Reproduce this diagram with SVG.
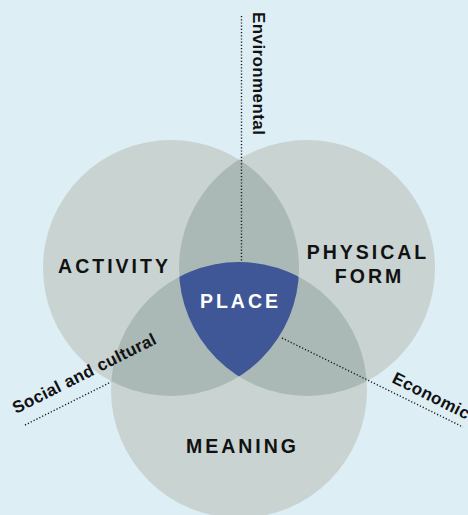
<svg xmlns="http://www.w3.org/2000/svg" width="468" height="515" viewBox="0 0 468 515">
<defs>
<style>
.circ{fill:#c9d3d2}
.ovl{fill:#abb9b6}
.place{fill:#3f5797}
.lbl{font-family:"Liberation Sans",Arial,sans-serif;font-weight:bold;font-size:19.5px;letter-spacing:3px;fill:#111;text-anchor:middle}
.plbl{font-family:"Liberation Sans",Arial,sans-serif;font-weight:bold;font-size:19.5px;letter-spacing:3px;fill:#fff;text-anchor:middle}
.dim{font-family:"Liberation Sans",Arial,sans-serif;font-weight:bold;font-size:17px;letter-spacing:0.4px;fill:#111}
.dot{stroke:#1a1a1a;stroke-width:1.4;stroke-dasharray:1.2 2;fill:none}
</style>
<clipPath id="clipA"><circle cx="171" cy="268" r="128"/></clipPath>
<clipPath id="clipB"><circle cx="307" cy="268" r="128"/></clipPath>
</defs>
<rect width="468" height="515" fill="#ddeef5"/>
<g id="activity">
<circle class="circ" cx="171" cy="268" r="128"/>
</g>
<g id="physical-form">
<circle class="circ" cx="307" cy="268" r="128"/>
</g>
<g id="meaning">
<circle class="circ" cx="239" cy="390" r="128"/>
</g>
<g id="overlaps">
<circle class="ovl" cx="307" cy="268" r="128" clip-path="url(#clipA)"/>
<circle class="ovl" cx="239" cy="390" r="128" clip-path="url(#clipA)"/>
<circle class="ovl" cx="239" cy="390" r="128" clip-path="url(#clipB)"/>
</g>
<g id="place">
<g clip-path="url(#clipA)"><circle class="place" cx="239" cy="390" r="128" clip-path="url(#clipB)"/></g>
</g>
<g id="connectors">
<line class="dot" x1="241.5" y1="16" x2="241.5" y2="262"/>
<line class="dot" x1="282" y1="338" x2="463" y2="427"/>
<line class="dot" x1="25" y1="425" x2="111" y2="382"/>
</g>
<g id="labels">
<text class="lbl" x="114.5" y="273">ACTIVITY</text>
<text class="lbl" x="368" y="259">PHYSICAL</text>
<text class="lbl" x="369.5" y="283">FORM</text>
<text class="plbl" x="240.5" y="308">PLACE</text>
<text class="lbl" x="242.5" y="453">MEANING</text>
<text class="dim" transform="translate(252.5,12) rotate(90)">Environmental</text>
<text class="dim" transform="translate(16,414) rotate(-26.6)">Social and cultural</text>
<text class="dim" transform="translate(391,382) rotate(26.6)">Economic</text>
</g>
</svg>
